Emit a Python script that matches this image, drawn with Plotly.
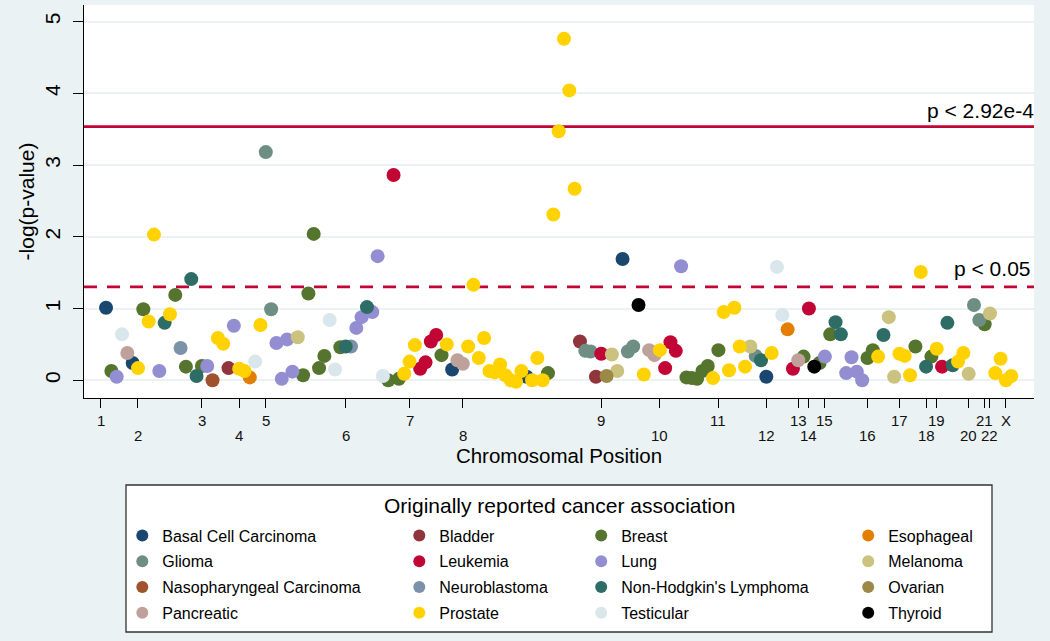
import math
import plotly.graph_objects as go

# ---------------- data ----------------
cancer_codes = ["BCC", "BLA", "BRE", "ESO", "GLI", "LEU", "LUN", "MEL",
                "NPC", "NEU", "NHL", "OVA", "PAN", "PRO", "TES", "THY"]
cancer_names = ["Basal Cell Carcinoma", "Bladder", "Breast", "Esophageal",
                "Glioma", "Leukemia", "Lung", "Melanoma",
                "Nasopharyngeal Carcinoma", "Neuroblastoma", "Non-Hodgkin's Lymphoma", "Ovarian",
                "Pancreatic", "Prostate", "Testicular", "Thyroid"]
cancer_colors = ["#1a476f", "#90353b", "#55752f", "#e37e00",
                 "#6e8e84", "#c10534", "#938dd2", "#cac27e",
                 "#a0522d", "#7b92a8", "#2d6d66", "#9c8847",
                 "#bfa19c", "#ffd200", "#d9e6eb", "#000000"]
legend_column = [1, 2, 3, 4, 1, 2, 3, 4, 1, 2, 3, 4, 1, 2, 3, 4]

# SNP order along the genome (x) with originally reported cancer and -log10(p)
snp_order = list(range(1, 172))
snp_cancer = [
    "BCC", "BRE", "LUN", "TES", "PAN", "BCC", "PRO", "BRE", "PRO", "PRO",
    "LUN", "NHL", "PRO", "BRE", "NEU", "BRE", "NHL", "NHL", "BRE", "LUN",
    "NPC", "PRO", "PRO", "BLA", "LUN", "PRO", "PRO", "ESO", "TES", "PRO",
    "GLI", "GLI", "LUN", "LUN", "LUN", "LUN", "MEL", "BRE", "BRE", "BRE",
    "BRE", "BRE", "TES", "TES", "BRE", "NHL", "NEU", "LUN", "LUN", "NHL",
    "LUN", "LUN", "TES", "BRE", "LEU", "BRE", "PRO", "PRO", "PRO", "LEU",
    "LEU", "LEU", "LEU", "BRE", "PRO", "BCC", "PAN", "PAN", "PRO", "PRO",
    "PRO", "PRO", "PRO", "PRO", "PRO", "PRO", "PRO", "PRO", "PRO", "BCC",
    "PRO", "PRO", "PRO", "BRE", "PRO", "PRO", "PRO", "PRO", "PRO", "BLA",
    "GLI", "GLI", "BLA", "LEU", "OVA", "MEL", "MEL", "BCC", "GLI", "GLI",
    "THY", "PRO", "PAN", "PAN", "PRO", "LEU", "LEU", "LEU", "LUN", "BRE",
    "BRE", "BRE", "BRE", "BRE", "PRO", "BRE", "PRO", "PRO", "PRO", "PRO",
    "PRO", "MEL", "GLI", "NHL", "BCC", "PRO", "TES", "TES", "ESO", "LEU",
    "PAN", "BRE", "LEU", "THY", "BRE", "LUN", "BRE", "NHL", "NHL", "LUN",
    "LUN", "LUN", "LUN", "BRE", "BRE", "PRO", "NHL", "MEL", "MEL", "PRO",
    "PRO", "PRO", "BRE", "PRO", "NHL", "BRE", "PRO", "LEU", "NHL", "NHL",
    "PRO", "PRO", "MEL", "GLI", "GLI", "BRE", "MEL", "PRO", "PRO", "PRO",
    "PRO",
]
snp_neglogp = [
    1.01, 0.13, 0.05, 0.64, 0.38, 0.24, 0.17, 0.99, 0.82, 2.03,
    0.13, 0.80, 0.92, 1.19, 0.45, 0.19, 1.41, 0.06, 0.20, 0.20,
    0.00, 0.59, 0.51, 0.17, 0.76, 0.16, 0.13, 0.04, 0.26, 0.77,
    3.18, 0.99, 0.52, 0.02, 0.57, 0.12, 0.60, 0.07, 1.21, 2.04,
    0.17, 0.34, 0.84, 0.15, 0.46, 0.47, 0.47, 0.73, 0.88, 1.02,
    0.95, 1.73, 0.06, 0.00, 2.86, 0.02, 0.09, 0.26, 0.49, 0.16,
    0.25, 0.54, 0.63, 0.35, 0.50, 0.15, 0.28, 0.23, 0.47, 1.33,
    0.31, 0.59, 0.13, 0.11, 0.22, 0.07, 0.00, -0.02, 0.13, 0.05,
    0.00, 0.31, 0.00, 0.10, 2.31, 3.47, 4.76, 4.04, 2.67, 0.54,
    0.41, 0.40, 0.05, 0.37, 0.06, 0.36, 0.13, 1.69, 0.40, 0.47,
    1.05, 0.08, 0.42, 0.35, 0.42, 0.17, 0.53, 0.41, 1.59, 0.04,
    0.03, 0.02, 0.13, 0.20, 0.03, 0.42, 0.95, 0.14, 1.01, 0.47,
    0.19, 0.47, 0.34, 0.28, 0.05, 0.38, 1.58, 0.91, 0.71, 0.16,
    0.28, 0.33, 1.00, 0.19, 0.24, 0.33, 0.64, 0.81, 0.64, 0.10,
    0.32, 0.12, 0.00, 0.31, 0.42, 0.33, 0.63, 0.88, 0.05, 0.37,
    0.34, 0.07, 0.47, 1.51, 0.19, 0.33, 0.44, 0.19, 0.80, 0.21,
    0.26, 0.38, 0.09, 1.05, 0.84, 0.78, 0.93, 0.10, 0.30, 0.00,
    0.06,
]

chrom_labels = ["1", "2", "3", "4", "5", "6", "7", "8", "9", "10", "11", "12",
                "13", "14", "15", "16", "17", "18", "19", "20", "21", "22", "X"]
chrom_start = [0, 7, 19, 26, 31, 46, 58, 68, 94, 105, 116, 125,
               131, 133, 136, 144, 150, 155, 157, 163, 166, 167, 170]

p_strict = 2.92e-4
p_nominal = 0.05

# ---------------- layout constants ----------------
FONT = "Liberation Sans, Arial, sans-serif"
BG = "#eaf2f3"
RED = "#c10534"
W, H = 1050, 641
ML, MR, MT, MB = 84, 16, 5, 243
PW, PH = W - ML - MR, H - MT - MB


def px_x(px):
    return (px - ML) / PW


def px_y(py):
    return (H - MB - py) / PH


fig = go.Figure()

legend_ids = {1: "legend", 2: "legend2", 3: "legend3", 4: "legend4"}
for code, name, color, col in zip(cancer_codes, cancer_names, cancer_colors, legend_column):
    xs = [x for x, c in zip(snp_order, snp_cancer) if c == code]
    ys = [y for y, c in zip(snp_neglogp, snp_cancer) if c == code]
    fig.add_trace(go.Scatter(
        x=xs, y=ys, mode="markers", name=name,
        marker=dict(color=color, size=14, line=dict(width=0)),
        legend=legend_ids[col], legendgroup=code,
        hovertemplate=name + "<br>-log(p)=%{y}<extra></extra>",
    ))

y_strict = -math.log10(p_strict)
y_nominal = -math.log10(p_nominal)

shapes = [
    dict(type="line", xref="paper", yref="y", x0=0, x1=1, y0=y_strict, y1=y_strict,
         line=dict(color=RED, width=2.6), layer="between"),
    dict(type="line", xref="paper", yref="y", x0=0, x1=1, y0=y_nominal, y1=y_nominal,
         line=dict(color=RED, width=2.6, dash="13px,10px"), layer="between"),
    # legend frame
    dict(type="rect", xref="paper", yref="paper",
         x0=px_x(126), x1=px_x(992), y0=px_y(632), y1=px_y(485),
         line=dict(color="#333333", width=1.3), fillcolor="white", layer="below"),
]

annotations = [
    dict(text="p &lt; 2.92e-4", xref="paper", yref="y", x=px_x(1036), y=y_strict,
         xanchor="right", yanchor="bottom", yshift=3, showarrow=False,
         font=dict(family=FONT, size=21, color="black")),
    dict(text="p &lt; 0.05", xref="paper", yref="y", x=px_x(1032), y=y_nominal,
         xanchor="right", yanchor="bottom", yshift=5, showarrow=False,
         font=dict(family=FONT, size=21, color="black")),
    dict(text="Originally reported cancer association", xref="paper", yref="paper",
         x=0.5, y=px_y(505.5), xanchor="center", yanchor="middle", showarrow=False,
         font=dict(family=FONT, size=21, color="black")),
]
# chromosome labels, alternating in two rows
for k, (lab, pos) in enumerate(zip(chrom_labels, chrom_start)):
    annotations.append(dict(
        text=lab, xref="x", yref="paper", x=pos, y=0, xanchor="center", yanchor="middle",
        yshift=-22 if k % 2 == 0 else -37, showarrow=False,
        font=dict(family=FONT, size=15, color="#111111")))

legend_common = dict(orientation="v", xanchor="left", yanchor="top",
                     bgcolor="rgba(0,0,0,0)", borderwidth=0,
                     font=dict(family=FONT, size=16, color="black"),
                     itemsizing="constant", tracegroupgap=2)
legend_marker_px = {1: 142.3, 2: 419.3, 3: 601.2, 4: 868.2}
legend_layout = {}
for col, lid in legend_ids.items():
    legend_layout[lid] = dict(legend_common, x=px_x(legend_marker_px[col] - 20), y=px_y(518.5))

fig.update_layout(
    width=W, height=H,
    margin=dict(l=ML, r=MR, t=MT, b=MB, autoexpand=False),
    paper_bgcolor=BG, plot_bgcolor="white",
    font=dict(family=FONT, color="black"),
    showlegend=True,
    shapes=shapes, annotations=annotations,
    xaxis=dict(range=[-3.14, 175.27], tickvals=chrom_start, showticklabels=False,
               ticks="outside", ticklen=9, tickwidth=1.3, tickcolor="black",
               showline=True, linecolor="black", linewidth=1.3, showgrid=False, zeroline=False,
               title=dict(text="Chromosomal Position", standoff=41,
                          font=dict(family=FONT, size=20.5, color="black"))),
    yaxis=dict(range=[-0.247, 5.23], tickvals=[0, 1, 2, 3, 4, 5], tickangle=-90,
               ticks="outside", ticklen=10, tickwidth=1.3, tickcolor="black",
               tickfont=dict(family=FONT, size=21, color="black"), ticklabelstandoff=4,
               showline=True, linecolor="black", linewidth=1.3,
               showgrid=True, gridcolor=BG, gridwidth=2, zeroline=False,
               title=dict(text="-log(p-value)", standoff=1,
                          font=dict(family=FONT, size=21, color="black"))),
    **legend_layout,
)

fig.write_html("out.html", config={"displayModeBar": False},
               post_script="document.body.style.margin='0';")
